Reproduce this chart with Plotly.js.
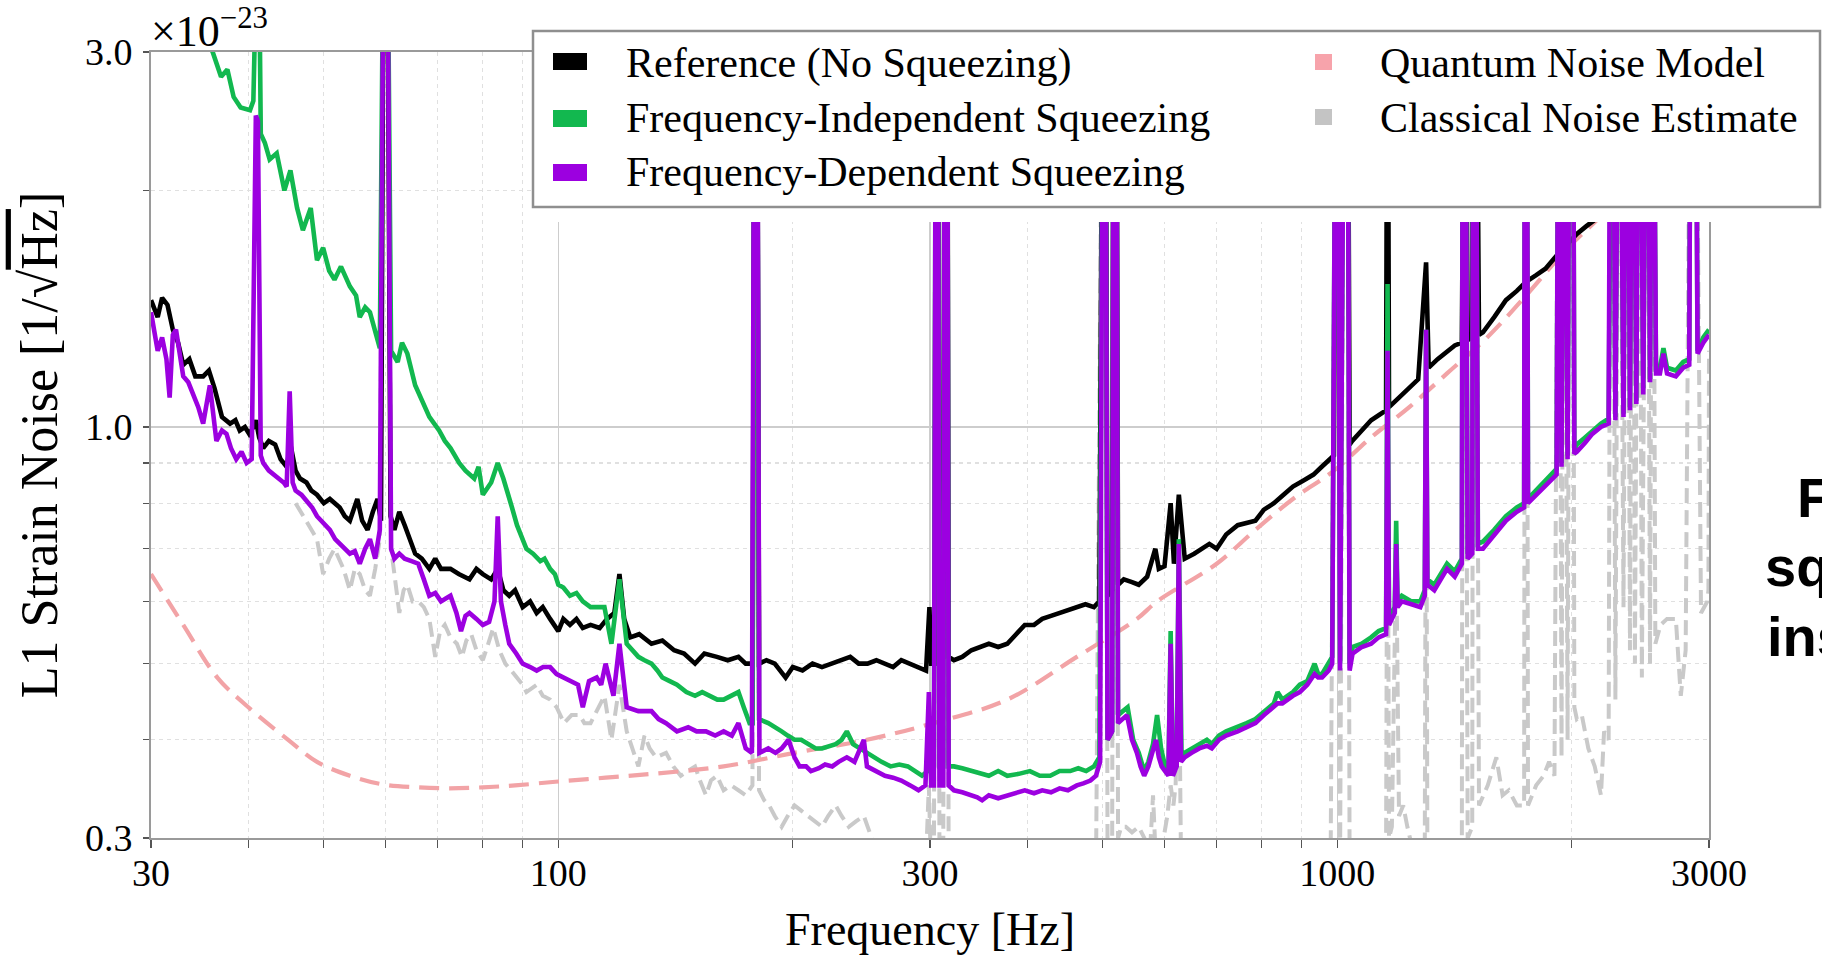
<!DOCTYPE html>
<html><head><meta charset="utf-8">
<script src="https://cdn.plot.ly/plotly-3.0.1.min.js"></script>
<style>html,body{margin:0;padding:0;background:#fff;}#chart{width:1822px;height:955px;}</style>
</head><body><div id="chart"></div>
<script>
// ---------- DATA (values in units of 1e-23 / sqrt(Hz)) ----------
const seriesNames = ['Reference (No Squeezing)','Frequency-Independent Squeezing','Frequency-Dependent Squeezing','Quantum Noise Model','Classical Noise Estimate'];
const xTickVals = [30,100,300,1000,3000];
const xTickText = ['30','100','300','1000','3000'];
const xMinorVals = [40,50,60,70,80,90,200,400,500,600,700,800,900,2000];
const yTickVals = [0.3,1.0,3.0];
const yTickText = ['0.3','1.0','3.0'];
const yMinorVals = [0.4,0.5,0.6,0.7,0.8,0.9,2.0];

const referenceData = [[30,1.45],[30.6,1.38],[31,1.46],[31.5,1.43],[32,1.33],[32.5,1.28],[33,1.20],[33.6,1.22],[34.2,1.16],[35,1.16],[35.6,1.18],[36.2,1.12],[37,1.03],[37.9,1.01],[38.5,1.02],[39,0.99],[39.6,1.00],[40.1,0.98],[40.6,1.00],[40.9,1.02],[41.3,0.97],[41.8,0.94],[42.5,0.96],[43.3,0.95],[44,0.91],[44.8,0.89],[45.3,0.95],[46,0.88],[46.6,0.86],[47.5,0.85],[48.2,0.83],[49,0.82],[50,0.80],[50.9,0.81],[52.4,0.79],[53.2,0.77],[54,0.76],[55.2,0.81],[56,0.76],[56.9,0.74],[57.8,0.78],[58.6,0.81],[59.2,0.76],[59.7,5],[60.3,5],[60.9,0.77],[61.6,0.74],[62.5,0.78],[63.5,0.75],[64.5,0.72],[65.5,0.69],[66.8,0.68],[68.3,0.66],[69.5,0.68],[70.7,0.66],[72.7,0.66],[74.5,0.65],[76.9,0.64],[78.5,0.66],[80,0.65],[82,0.64],[83.6,0.66],[85,0.62],[86.5,0.61],[88,0.62],[90,0.59],[92,0.60],[93.8,0.58],[95.5,0.59],[97.6,0.57],[100,0.55],[101.5,0.57],[103.5,0.56],[105.5,0.57],[107.5,0.555],[110,0.56],[113,0.555],[115.5,0.57],[118,0.58],[119.8,0.65],[121.5,0.57],[123.7,0.54],[127,0.545],[131.7,0.53],[136,0.535],[140.8,0.52],[145,0.515],[149.8,0.50],[154,0.515],[159.8,0.51],[165,0.505],[170.3,0.51],[174,0.50],[177.6,0.50],[178.7,5],[179.8,5],[181,0.50],[185,0.505],[189.6,0.50],[195.8,0.48],[200,0.495],[205.8,0.49],[212,0.50],[218,0.495],[224.7,0.50],[231,0.505],[237,0.51],[243,0.50],[249.4,0.50],[256,0.505],[262.6,0.50],[269,0.495],[275.6,0.505],[282,0.50],[289,0.495],[296.5,0.49],[299.5,0.59],[301,0.50],[304,0.50],[305.5,5],[307,5],[308.5,0.51],[312,0.51],[313.5,5],[315.5,5],[317,0.51],[322,0.505],[330,0.51],[339,0.52],[348,0.525],[357,0.53],[367,0.525],[377,0.53],[387,0.545],[397,0.56],[408,0.56],[418,0.57],[429,0.575],[440,0.58],[451,0.585],[463,0.59],[475,0.595],[487,0.59],[495,0.60],[500.5,5],[503.5,5],[507,0.61],[514,0.62],[516.5,5],[520,5],[523,0.63],[532,0.64],[545,0.635],[556,0.63],[570,0.645],[584,0.70],[590,0.66],[600,0.665],[611,0.80],[617,0.67],[626,0.82],[637,0.68],[655,0.69],[670,0.70],[685,0.71],[700,0.70],[720,0.73],[745,0.75],[765,0.755],[785,0.76],[805,0.785],[829,0.80],[853,0.82],[877,0.84],[905,0.855],[932,0.87],[955,0.89],[980,0.91],[990,0.92],[997,5],[1001,5],[1008,0.94],[1022,5],[1030,5],[1037,0.95],[1045,0.96],[1075,0.99],[1105,1.02],[1130,1.035],[1155,1.05],[1160,5],[1165,1.06],[1200,1.09],[1237,1.12],[1270,1.15],[1300,1.62],[1310,1.19],[1345,1.22],[1383,1.25],[1415,1.27],[1445,1.28],[1450,5],[1458,5],[1470,1.29],[1490,1.30],[1495,5],[1505,5],[1520,1.31],[1538,1.32],[1590,1.38],[1646,1.45],[1700,1.49],[1747,1.53],[1800,1.56],[1850,1.59],[1910,1.65],[1966,1.70],[2030,1.76],[2086,1.80],[2180,1.86],[2300,1.95],[2500,2.1],[2700,2.25],[3000,2.5]];

const freqIndependentData = [[30,4.5],[33,3.6],[36,3.0],[36.9,2.79],[37.6,2.85],[38.3,2.63],[39.1,2.55],[40.2,2.53],[40.6,2.6],[40.8,5],[41.2,5],[41.5,2.36],[42,2.30],[42.6,2.19],[43.5,2.23],[44.5,2.00],[45.3,2.12],[46.2,1.90],[47,1.78],[48.1,1.90],[49,1.63],[49.9,1.69],[50.8,1.58],[51.6,1.54],[52.6,1.60],[54,1.51],[55,1.47],[55.6,1.38],[56.5,1.42],[57.3,1.40],[58.3,1.32],[59,1.26],[59.7,5],[60.3,5],[61,1.25],[62.2,1.21],[63,1.28],[64,1.24],[65.5,1.13],[66.8,1.08],[68.3,1.03],[70.3,0.99],[71.5,0.96],[72.7,0.94],[74.6,0.90],[76,0.88],[76.9,0.87],[78,0.86],[79,0.89],[80,0.82],[82,0.85],[83.6,0.90],[85,0.86],[86,0.83],[87.2,0.79],[88.5,0.75],[90,0.72],[91,0.70],[92.8,0.69],[94.8,0.675],[96,0.68],[97.6,0.66],[99,0.65],[100,0.63],[101.5,0.625],[103.5,0.61],[105.5,0.615],[107.5,0.60],[110,0.59],[112,0.59],[114.6,0.59],[117,0.53],[119.8,0.64],[122.4,0.53],[124.5,0.52],[126.7,0.51],[129,0.505],[131.7,0.50],[134,0.49],[136,0.48],[139,0.475],[142,0.47],[146,0.46],[149.8,0.455],[153,0.46],[156.6,0.455],[160,0.45],[163,0.45],[167,0.455],[170.3,0.46],[173,0.44],[176,0.42],[177.6,0.42],[178.7,5],[179.8,5],[181,0.425],[186,0.42],[190,0.415],[193.5,0.41],[197,0.405],[201,0.40],[205,0.40],[209.5,0.395],[214,0.39],[218,0.39],[222,0.392],[227,0.395],[231,0.40],[234.6,0.41],[239,0.395],[244,0.39],[249,0.385],[254,0.38],[260,0.375],[267,0.37],[274,0.372],[281,0.37],[287,0.365],[293,0.36],[298,0.365],[303.5,0.37],[305.5,5],[307,5],[308.5,0.37],[312,0.37],[313.5,5],[315.5,5],[317,0.37],[322,0.37],[330,0.368],[339,0.365],[348,0.362],[357,0.36],[367,0.365],[377,0.36],[390,0.362],[403,0.365],[415,0.36],[428,0.36],[440,0.365],[454,0.365],[465,0.368],[476,0.365],[487,0.37],[495,0.38],[500.5,5],[503.5,5],[507,0.40],[514,0.41],[516.5,5],[520,5],[523,0.43],[530,0.435],[538,0.44],[547,0.40],[556,0.385],[565,0.365],[572,0.375],[580,0.395],[587,0.43],[594,0.39],[601,0.37],[607,0.365],[611,0.55],[615,0.37],[622,0.375],[626,0.72],[631,0.38],[637,0.385],[650,0.39],[665,0.395],[680,0.40],[690,0.395],[705,0.405],[720,0.41],[745,0.415],[765,0.42],[785,0.425],[805,0.435],[829,0.445],[838,0.46],[850,0.45],[863,0.455],[877,0.46],[895,0.47],[915,0.475],[935,0.50],[945,0.485],[956,0.485],[975,0.50],[985,0.51],[997,5],[1001,5],[1008,0.50],[1022,5],[1030,5],[1037,0.50],[1046,0.525],[1075,0.53],[1105,0.54],[1130,0.55],[1155,0.555],[1160,1.52],[1165,0.57],[1185,0.59],[1190,0.76],[1195,0.60],[1210,0.61],[1245,0.60],[1278,0.60],[1295,0.62],[1300,1.33],[1305,0.64],[1332,0.63],[1383,0.67],[1415,0.655],[1445,0.68],[1450,5],[1458,5],[1470,0.69],[1490,0.70],[1495,5],[1505,5],[1515,0.71],[1538,0.715],[1590,0.74],[1646,0.77],[1700,0.79],[1737,0.80],[1742,5],[1750,5],[1757,0.81],[1800,0.83],[1850,0.855],[1912,0.885],[1925,5],[1940,0.90],[1955,5],[1975,0.92],[1990,5],[2005,5],[2015,0.935],[2030,0.95],[2080,0.97],[2125,0.99],[2180,1.01],[2230,1.025],[2245,5],[2255,5],[2275,1.03],[2300,5],[2330,1.04],[2355,5],[2375,1.06],[2395,5],[2420,1.08],[2440,5],[2470,1.12],[2500,5],[2520,1.15],[2540,5],[2565,1.18],[2595,1.19],[2622,1.26],[2650,1.19],[2720,1.18],[2780,1.21],[2830,1.22],[2845,5],[2880,5],[2900,1.25],[2950,1.30],[3000,1.33]];

const freqDependentData = [[30,1.40],[30.3,1.32],[30.6,1.25],[31,1.30],[31.4,1.22],[31.7,1.09],[32,1.31],[32.3,1.33],[32.7,1.22],[33,1.16],[33.5,1.14],[34,1.10],[34.5,1.06],[35,1.01],[35.7,1.13],[36.4,0.96],[37,0.99],[37.5,0.98],[38,0.94],[38.6,0.91],[39.2,0.93],[39.8,0.90],[40.4,0.91],[40.9,2.49],[41.15,2.45],[41.5,0.92],[41.8,0.90],[42.5,0.88],[43.2,0.87],[43.8,0.86],[44.4,0.85],[44.8,0.84],[45.2,1.11],[45.6,0.85],[46,0.83],[46.8,0.82],[47.7,0.80],[48.3,0.79],[49,0.77],[50,0.755],[50.9,0.74],[51.7,0.72],[52.4,0.71],[53.2,0.70],[54,0.69],[54.8,0.695],[55.6,0.67],[56.5,0.70],[57.3,0.72],[58.2,0.68],[59,0.74],[59.7,5],[60.3,5],[61,0.70],[61.6,0.68],[62.5,0.69],[63.5,0.68],[64.8,0.675],[66.1,0.67],[67.2,0.64],[68.3,0.61],[69.5,0.615],[70.7,0.60],[71.7,0.605],[72.7,0.61],[74,0.58],[75,0.55],[76,0.575],[76.9,0.58],[78.5,0.57],[80,0.56],[81.5,0.565],[82.8,0.60],[83.6,0.77],[84.4,0.60],[85.5,0.56],[86.5,0.53],[88.3,0.515],[90,0.50],[92,0.495],[93.8,0.49],[95.6,0.495],[97.6,0.495],[99.5,0.485],[101.7,0.48],[104,0.475],[106,0.47],[107.5,0.44],[109.5,0.475],[112,0.48],[113.5,0.47],[115,0.50],[117.7,0.455],[119.8,0.53],[122.4,0.44],[126.7,0.435],[131.7,0.435],[134.5,0.425],[137.5,0.42],[142,0.41],[146.8,0.415],[150.5,0.41],[154.7,0.41],[159,0.405],[163,0.41],[167,0.405],[170.3,0.42],[174,0.39],[177.2,0.385],[178.7,5],[179.8,5],[181.2,0.385],[186,0.39],[190,0.385],[193.5,0.39],[197.5,0.40],[201,0.38],[204,0.37],[208,0.37],[211,0.365],[216,0.368],[220,0.372],[224.7,0.37],[229,0.375],[234.6,0.38],[240,0.375],[246.7,0.40],[249,0.37],[255,0.365],[262.6,0.36],[269,0.358],[275.6,0.355],[283,0.35],[290,0.345],[296,0.35],[299,0.46],[301,0.35],[303.5,0.35],[305.5,5],[307,5],[308.5,0.35],[312,0.35],[313.5,5],[315.5,5],[317,0.35],[322,0.345],[330,0.343],[339,0.34],[345,0.338],[350,0.335],[357,0.34],[367,0.337],[377,0.34],[387,0.343],[397,0.345],[408,0.342],[418,0.345],[429,0.343],[440,0.347],[451,0.345],[463,0.35],[472,0.352],[482,0.355],[490,0.36],[496,0.375],[500.5,5],[503.5,5],[507,0.40],[514,0.41],[516.5,5],[520,5],[523,0.42],[530,0.425],[537,0.43],[545,0.40],[553,0.385],[559,0.37],[565,0.36],[572,0.37],[580,0.39],[585,0.40],[590,0.38],[595,0.37],[601,0.365],[607,0.36],[611,0.53],[615,0.36],[622,0.37],[626,0.71],[630,0.375],[637,0.38],[650,0.385],[665,0.39],[680,0.393],[690,0.39],[705,0.40],[720,0.405],[745,0.41],[765,0.415],[785,0.42],[805,0.43],[829,0.44],[838,0.445],[850,0.445],[863,0.45],[877,0.455],[895,0.46],[915,0.47],[935,0.485],[945,0.48],[956,0.48],[975,0.49],[985,0.50],[997,5],[1001,5],[1008,0.49],[1022,5],[1030,5],[1037,0.49],[1046,0.515],[1075,0.525],[1105,0.53],[1130,0.54],[1155,0.545],[1160,1.25],[1165,0.56],[1185,0.58],[1190,0.71],[1195,0.59],[1210,0.60],[1245,0.595],[1278,0.59],[1295,0.61],[1300,1.33],[1305,0.63],[1332,0.62],[1383,0.66],[1415,0.645],[1445,0.67],[1450,5],[1458,5],[1470,0.68],[1490,0.69],[1495,5],[1505,5],[1515,0.70],[1538,0.70],[1590,0.73],[1646,0.76],[1700,0.78],[1737,0.79],[1742,5],[1750,5],[1757,0.80],[1800,0.82],[1850,0.84],[1912,0.87],[1925,5],[1940,0.89],[1955,5],[1975,0.91],[1990,5],[2005,5],[2015,0.925],[2030,0.93],[2080,0.955],[2125,0.98],[2180,1.00],[2230,1.01],[2245,5],[2255,5],[2275,1.02],[2300,5],[2330,1.03],[2355,5],[2375,1.05],[2395,5],[2420,1.07],[2440,5],[2470,1.10],[2500,5],[2520,1.14],[2540,5],[2565,1.17],[2595,1.17],[2622,1.24],[2650,1.17],[2720,1.16],[2780,1.19],[2830,1.20],[2845,5],[2880,5],[2900,1.24],[2950,1.28],[3000,1.31]];

const quantumModelData = [[30,0.65],[33,0.56],[36.5,0.48],[40,0.44],[45,0.40],[49,0.375],[54,0.36],[59.5,0.351],[66,0.348],[72.6,0.347],[80,0.348],[88,0.35],[100,0.354],[115,0.358],[132,0.362],[163,0.37],[201,0.385],[249,0.40],[303,0.42],[377,0.45],[463,0.51],[553,0.57],[587,0.60],[700,0.67],[785,0.74],[877,0.81],[990,0.88],[1105,0.97],[1237,1.06],[1383,1.17],[1557,1.30],[1747,1.47],[1966,1.68],[2200,1.87],[2500,2.12],[3000,2.55]];

const classicalData = [[46,0.80],[47.5,0.76],[49,0.72],[49.9,0.65],[50.8,0.68],[51.6,0.70],[53,0.66],[54,0.62],[54.8,0.66],[55.6,0.65],[56.5,0.62],[57.3,0.61],[58.2,0.66],[59,0.72],[59.7,5],[60.3,5],[61,0.70],[61.6,0.65],[62.5,0.58],[63.3,0.62],[64,0.63],[65,0.60],[66.1,0.60],[67.2,0.59],[68.3,0.57],[69.5,0.51],[70.5,0.55],[71.5,0.56],[72.7,0.54],[74.1,0.53],[75.2,0.51],[76.2,0.535],[77.3,0.545],[78.5,0.52],[80,0.505],[81.3,0.53],[82.5,0.555],[84,0.52],[85.5,0.50],[87,0.49],[88.5,0.48],[90,0.47],[91,0.46],[92.5,0.465],[93.8,0.47],[95.5,0.455],[97.6,0.45],[99.5,0.44],[101.7,0.42],[104,0.43],[106.5,0.43],[108,0.42],[110,0.42],[112,0.435],[114.6,0.455],[117,0.40],[119.8,0.47],[122.4,0.41],[124.5,0.39],[126.7,0.37],[129,0.405],[131,0.39],[133.5,0.38],[137.5,0.385],[140.5,0.37],[143.6,0.36],[146.5,0.365],[149.8,0.37],[152,0.355],[154.7,0.34],[157,0.355],[159.8,0.36],[163,0.345],[166.6,0.35],[170.3,0.345],[174,0.34],[177.5,0.35],[178.7,5],[179.8,5],[181,0.345],[183.8,0.335],[186.5,0.33],[189.6,0.32],[193.5,0.31],[197,0.32],[201,0.33],[205,0.325],[209.5,0.32],[214,0.315],[218,0.31],[222,0.32],[227,0.33],[231,0.32],[236,0.31],[241,0.315],[246.7,0.32],[251,0.305],[256,0.29],[265,0.28],[280,0.27],[296,0.27],[299,0.35],[301,0.27],[303.5,0.28],[305.5,5],[307,5],[308.5,0.28],[312,0.28],[313.5,5],[315.5,5],[317,0.27],[330,0.26],[360,0.26],[400,0.26],[450,0.265],[490,0.27],[500.5,5],[503.5,5],[507,0.29],[514,0.29],[516.5,5],[520,5],[523,0.30],[528,0.31],[535,0.31],[545,0.305],[556,0.31],[565,0.30],[575,0.29],[580,0.34],[584,0.29],[595,0.29],[605,0.32],[611,0.35],[616,0.33],[620,0.35],[626,0.53],[630,0.28],[650,0.26],[700,0.25],[800,0.25],[900,0.255],[980,0.26],[997,5],[1001,5],[1008,0.27],[1022,5],[1030,5],[1037,0.27],[1080,0.27],[1140,0.28],[1155,0.29],[1160,1.2],[1165,0.30],[1175,0.31],[1190,0.70],[1200,0.32],[1215,0.33],[1230,0.31],[1260,0.28],[1295,0.29],[1300,1.3],[1305,0.29],[1340,0.29],[1380,0.28],[1420,0.29],[1445,0.30],[1450,5],[1458,5],[1470,0.30],[1490,0.31],[1495,5],[1505,5],[1520,0.33],[1560,0.35],[1600,0.38],[1630,0.34],[1660,0.345],[1700,0.33],[1737,0.33],[1742,5],[1750,5],[1757,0.33],[1800,0.35],[1840,0.36],[1870,0.375],[1900,0.36],[1925,5],[1940,0.38],[1955,5],[1975,0.40],[1990,5],[2005,5],[2015,0.44],[2030,0.425],[2060,0.43],[2100,0.39],[2140,0.37],[2180,0.34],[2200,0.41],[2230,0.40],[2245,5],[2255,5],[2275,0.45],[2300,5],[2330,0.59],[2355,5],[2375,0.52],[2395,5],[2410,0.50],[2440,5],[2460,0.48],[2500,5],[2520,0.50],[2540,5],[2560,0.53],[2600,0.56],[2650,0.57],[2720,0.57],[2760,0.455],[2800,0.52],[2845,5],[2880,5],[2930,0.58],[2985,0.60],[2995,0.62],[3000,1.25]];

// ---------- STYLE ----------
const colors = {ref:'#000000', fis:'#12b84f', fds:'#9c00e0', qn:'#f2a3a6', cl:'#c9c9c9'};
const legendColors = ['#000000','#12b84f','#9c00e0','#f7a3ab','#c4c4c4'];
const W = 1822, H = 955;
const M = {l:151, r:113, t:52, b:117};
const PW = W - M.l - M.r, PH = H - M.t - M.b;
const px = X => (X - M.l) / PW;
const py = Y => (H - M.b - Y) / PH;
const serif = 'Liberation Serif, Times New Roman, serif';

function tr(data, name, color, width, dash, shape) {
  return {
    type:'scatter', mode:'lines', name:name,
    x: data.map(d => d[0]), y: data.map(d => d[1]),
    line:{color:color, width:width, dash:dash || 'solid', shape: shape || 'linear'},
    hoverinfo:'skip', showlegend:false
  };
}

const traces = [
  tr(classicalData, seriesNames[4], colors.cl, 4, '15px,7px'),
  tr(quantumModelData, seriesNames[3], colors.qn, 4.2, '20px,10px', 'spline'),
  tr(referenceData, seriesNames[0], colors.ref, 4.6),
  tr(freqIndependentData, seriesNames[1], colors.fis, 4.6),
  tr(freqDependentData, seriesNames[2], colors.fds, 4.6)
];

// ---------- LEGEND (drawn as shapes + text) ----------
const shapes = [
  {type:'rect', xref:'paper', yref:'paper', x0:px(533), x1:px(1830), y0:py(222), y1:py(30), fillcolor:'#ffffff', line:{width:0}, layer:'above'},
  {type:'rect', xref:'paper', yref:'paper', x0:px(533), x1:px(1820), y0:py(207), y1:py(31), fillcolor:'rgba(0,0,0,0)', line:{color:'#8f8f8f', width:2.5}, layer:'above'}
];
const legendRows = [
  {x0:553, x1:587, y0:53, y1:70, tx:624, ty:63},
  {x0:553, x1:587, y0:110, y1:127, tx:624, ty:118},
  {x0:553, x1:587, y0:164, y1:181, tx:624, ty:172},
  {x0:1315, x1:1332, y0:54, y1:70, tx:1378, ty:63},
  {x0:1315, x1:1332, y0:109, y1:125, tx:1378, ty:118}
];
const annotations = [];
legendRows.forEach((r, i) => {
  shapes.push({type:'rect', xref:'paper', yref:'paper', x0:px(r.x0), x1:px(r.x1), y0:py(r.y1), y1:py(r.y0), fillcolor:legendColors[i], line:{width:0}, layer:'above'});
  annotations.push({xref:'paper', yref:'paper', x:px(r.tx), y:py(r.ty), xanchor:'left', yanchor:'middle', text:seriesNames[i], showarrow:false, font:{family:serif, size:42, color:'#000'}});
});

// exponent label
annotations.push({xref:'paper', yref:'paper', x:px(149), y:py(58), xanchor:'left', yanchor:'bottom', text:'×10<sup>−23</sup>', showarrow:false, font:{family:serif, size:44, color:'#000'}});

// slide text cut at right edge
const sideText = [{t:'F', x:1795, y:497}, {t:'sq', x:1763, y:566}, {t:'ins', x:1765, y:636}];
sideText.forEach(s => annotations.push({xref:'paper', yref:'paper', x:px(s.x), y:py(s.y), xanchor:'left', yanchor:'middle', text:'<b>'+s.t+'</b>', showarrow:false, font:{family:'Liberation Sans, Arial, sans-serif', size:56, color:'#000'}}));

const axisCommon = {
  type:'log', showline:true, linecolor:'#9a9a9a', linewidth:2, mirror:true,
  showgrid:true, gridcolor:'#cdcdcd', gridwidth:1.5, zeroline:false, automargin:false,
  ticks:'outside', tickcolor:'#555', tickwidth:1.5,
  tickfont:{family:serif, size:38, color:'#000'}
};

const layout = {
  width:W, height:H, margin:{l:M.l, r:M.r, t:M.t, b:M.b, pad:0},
  paper_bgcolor:'#ffffff', plot_bgcolor:'#ffffff', showlegend:false,
  font:{family:serif, color:'#000'},
  xaxis: Object.assign({}, axisCommon, {
    range:[Math.log10(30), Math.log10(3000)], tickmode:'array', tickvals:xTickVals, ticktext:xTickText,
    ticklen:8, ticklabelstandoff:-8,
    minor:{tickmode:'array', tickvals:xMinorVals, ticks:'outside', ticklen:8, tickwidth:1.2, tickcolor:'#555', showgrid:true, gridcolor:'#e0e0e0', gridwidth:1.2, griddash:'4px,4px'},
    title:{text:'Frequency [Hz]', font:{family:serif, size:46, color:'#000'}, standoff:22}
  }),
  yaxis: Object.assign({}, axisCommon, {
    range:[Math.log10(0.3), Math.log10(3.0)], tickmode:'array', tickvals:yTickVals, ticktext:yTickText,
    ticklen:6, ticklabelstandoff:3,
    minor:{tickmode:'array', tickvals:yMinorVals, ticks:'outside', ticklen:6, tickwidth:1.2, tickcolor:'#555', showgrid:true, gridcolor:'#e0e0e0', gridwidth:1.2, griddash:'4px,4px'},
    title:{text:'L1 Strain Noise [1/√<span style="text-decoration:overline">Hz</span>]', font:{family:serif, size:52, color:'#000'}, standoff:11}
  }),
  shapes:shapes, annotations:annotations
};

Plotly.newPlot('chart', traces, layout, {displayModeBar:false, staticPlot:true});
</script>
</body></html>
